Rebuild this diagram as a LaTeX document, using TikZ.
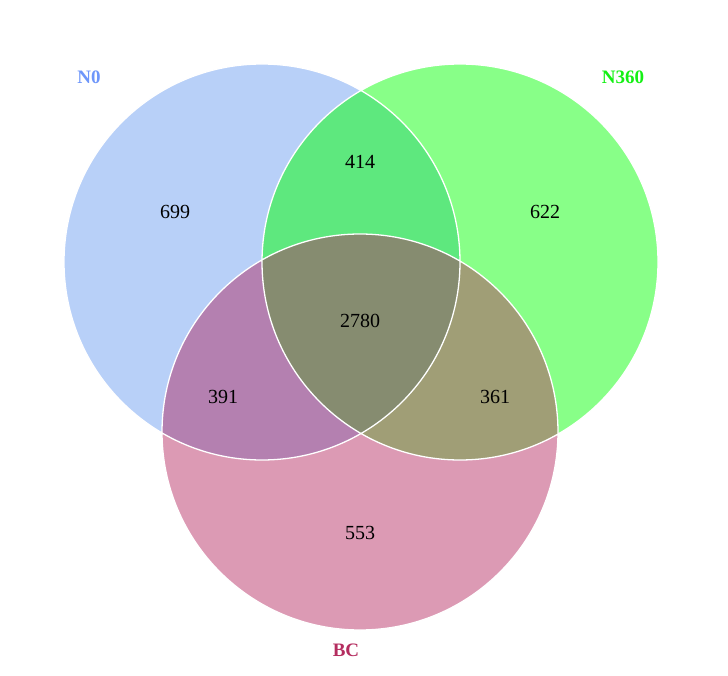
\documentclass[tikz,border=0pt]{standalone}
\usepackage{fontspec}
\setmainfont{Liberation Serif}
\usetikzlibrary{positioning}

\definecolor{cA}{RGB}{184,208,248}
\definecolor{cB}{RGB}{136,255,136}
\definecolor{cC}{RGB}{220,154,180}
\definecolor{cAB}{RGB}{94,232,126}
\definecolor{cAC}{RGB}{180,128,176}
\definecolor{cBC}{RGB}{160,158,118}
\definecolor{cABC}{RGB}{134,140,112}
\definecolor{lA}{RGB}{110,150,250}
\definecolor{lB}{RGB}{20,240,20}
\definecolor{lC}{RGB}{180,45,95}

\begin{document}
\begin{tikzpicture}[x=1pt,y=-1pt,
  num/.style={font=\fontsize{20}{24}\selectfont,text=black},
  set/.style={font=\fontsize{19}{23}\selectfont\bfseries},
  rim/.style={draw=white,line width=1.3pt}]
\useasboundingbox (0,0) rectangle (728,676);
% circles
\def\rr{198}
\coordinate (A) at (262,262);
\coordinate (B) at (460,262);
\coordinate (C) at (360,432);
\fill[cA] (A) circle (\rr);
\fill[cB] (B) circle (\rr);
\fill[cC] (C) circle (\rr);
% overlaps
\begin{scope}
  \clip (A) circle (\rr);
  \fill[cAB] (B) circle (\rr);
  \fill[cAC] (C) circle (\rr);
  \clip (B) circle (\rr);
  \fill[cABC] (C) circle (\rr);
\end{scope}
\begin{scope}
  \clip (B) circle (\rr);
  \begin{scope}
    \clip (C) circle (\rr);
    \fill[cBC] (C) circle (\rr);
    \clip (A) circle (\rr);
    \fill[cABC] (C) circle (\rr);
  \end{scope}
\end{scope}
\draw[rim] (A) circle (\rr) (B) circle (\rr) (C) circle (\rr);
% counts
\node[num] (nA) at (175,212) {699};
\node[num] (nB) at (545,212) {622};
\node[num] (nAB) at (360,162) {414};
\node[num] (nABC) at (360,321) {2780};
\node[num] (nAC) at (223,397) {391};
\node[num] (nBC) at (495,397) {361};
\node[num] (nC) at (360,533) {553};
% set names
\node[set,text=lA] (tA) at (89,77) {N0};
\node[set,text=lB] (tB) at (623,77) {N360};
\node[set,text=lC] (tC) at (346,650) {BC};
\end{tikzpicture}
\end{document}
